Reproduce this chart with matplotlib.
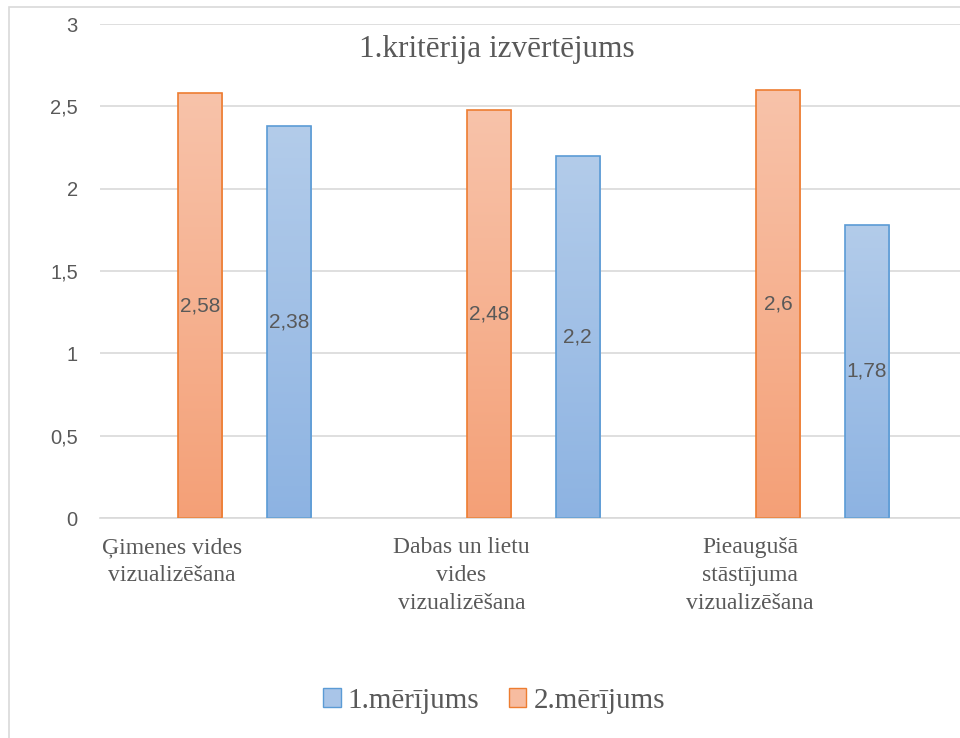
import numpy as np
import matplotlib.pyplot as plt
from matplotlib.colors import LinearSegmentedColormap
from matplotlib.patches import Patch, Rectangle
from matplotlib.transforms import blended_transform_factory, offset_copy

categories = ['Ģimenes vides\nvizualizēšana',
              'Dabas un lietu\nvides\nvizualizēšana',
              'Pieaugušā\nstāstījuma\nvizualizēšana']
meas1 = [2.38, 2.2, 1.78]   # 1.mērījums
meas2 = [2.58, 2.48, 2.6]   # 2.mērījums
yticks = [0, 0.5, 1, 1.5, 2, 2.5, 3]

gray = '#595959'
grid = '#D9D9D9'
serif = 'Liberation Serif'
sans = 'Liberation Sans'

orange_cm = LinearSegmentedColormap.from_list('og', ['#F4A077', '#F8C3AA'])
blue_cm = LinearSegmentedColormap.from_list('bg', ['#8DB3E2', '#B3CCEA'])

fig = plt.figure(figsize=(9.6, 7.38), dpi=100)
ax = fig.add_axes([100/960, 220/738, 867/960, 494/738])

x = np.arange(len(categories))
w = 0.153

def grad_bars(xpos, vals, cmap, edge):
    bars = ax.bar(xpos, vals, w, facecolor='none', edgecolor=edge, linewidth=1.2, zorder=3)
    grad = np.linspace(0, 1, 256).reshape(-1, 1)
    for b in bars:
        x0, h = b.get_x(), b.get_height()
        im = ax.imshow(grad, cmap=cmap, origin='lower', aspect='auto',
                       extent=(x0, x0 + w, 0, h), zorder=2)
        im.set_clip_path(b)
    return bars

b2 = grad_bars(x - w, meas2, orange_cm, '#ED7D31')
b1 = grad_bars(x + w, meas1, blue_cm, '#5B9BD5')

for bars, vals in ((b2, meas2), (b1, meas1)):
    for b, v in zip(bars, vals):
        ax.text(b.get_x() + w / 2, v / 2, f'{v:g}'.replace('.', ','),
                ha='center', va='center', fontsize=15, color=gray,
                family=sans, zorder=4)

ax.set_xlim(-0.5, 2.5)
ax.set_ylim(0, 3)
ax.set_yticks(yticks)
ax.set_yticklabels([f'{t:g}'.replace('.', ',') for t in yticks],
                   fontsize=14.5, color=gray, family=sans)
ax.tick_params(axis='y', length=0, pad=16)
ax.set_xticks([])
ax.yaxis.grid(True, color=grid, linewidth=1.2, zorder=0)
ax.set_axisbelow(True)
for s in ('left', 'right', 'top'):
    ax.spines[s].set_visible(False)
ax.spines['bottom'].set_color(grid)
ax.spines['bottom'].set_linewidth(1.2)

# category labels sit left of the bar pair centre
trans = offset_copy(blended_transform_factory(ax.transData, ax.transAxes),
                    fig=fig, y=-14, units='points')
for i, lab in enumerate(categories):
    ax.text(x[i] - 0.25, 0, lab, transform=trans, ha='center', va='top',
            fontsize=17, color=gray, family=serif, linespacing=1.42)

fig.text(497/960, 1 - 50/738, '1.kritērija izvērtējums', ha='center',
         va='center', fontsize=22.5, color=gray, family=serif)

handles = [Patch(facecolor='#A9C5E8', edgecolor='#5B9BD5', label='1.mērījums'),
           Patch(facecolor='#F7BCA0', edgecolor='#ED7D31', label='2.mērījums')]
leg = fig.legend(handles=handles, loc='center', bbox_to_anchor=(494/960, 1 - 701/738),
                 ncol=2, frameon=False, handlelength=0.6, handleheight=0.6,
                 handletextpad=0.25, columnspacing=1.0,
                 prop={'family': serif, 'size': 21})
for t in leg.get_texts():
    t.set_color(gray)

fig.add_artist(Rectangle((9/960, -0.05), 1.2, 1.05 - 7/738, transform=fig.transFigure,
                         fill=False, edgecolor=grid, linewidth=1.2))

fig.savefig('out.png', dpi=100)
